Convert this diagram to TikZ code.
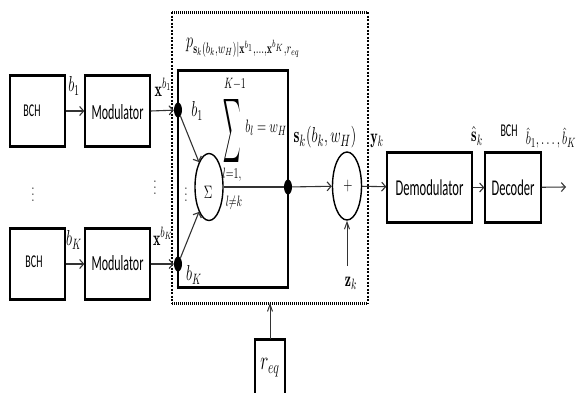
\documentclass[tikz,border=0pt]{standalone}
\usepackage{fontspec}
\setsansfont{Carlito}
\usepackage{amsmath}
\usepackage{graphicx}
\usetikzlibrary{arrows.meta,shapes.geometric}
\newcommand{\vt}[1]{\scalebox{1}[1.8]{#1}}
\newcommand{\vm}[1]{\scalebox{1}[1.5]{#1}}
\begin{document}
\begin{tikzpicture}[x=1pt,y=-1pt,
  blk/.style={draw, line width=1.3pt, inner sep=0pt, minimum width=#1},
  blk/.default=65,
  tb/.style={line width=3pt},
  arr/.style={draw=black!80, line width=1.1pt, -{Straight Barb[length=4pt,width=9pt,line width=1.1pt]}},
  varr/.style={draw=black!80, line width=1pt, -{Straight Barb[length=7pt,width=5pt,line width=1pt]}},
  dot/.style={ellipse, fill=black, inner sep=0pt, minimum width=8pt, minimum height=15pt},
  oval/.style={ellipse, draw, line width=1.4pt, inner sep=0pt, minimum width=28pt, minimum height=67pt},
  boxtxt/.style={font=\sffamily\fontsize{12}{14}\selectfont, inner sep=0pt},
  smalltxt/.style={font=\sffamily\fontsize{10}{12}\selectfont, inner sep=0pt},
  lab/.style={font=\fontsize{14}{16}\selectfont, inner sep=0pt}
]
\path[use as bounding box] (0,0) rectangle (577,392);

% blocks
\node[blk=55, minimum height=69pt] (bch1) at (37.5,111) {};
\node[smalltxt] (bch1t) at (32,111) {\vt{BCH}};
\node[blk=65, minimum height=69pt] (mod1) at (117.5,111) {};
\node[boxtxt] (mod1t) at (117.5,112) {\vt{Modulator}};
\node[blk=55, minimum height=69pt] (bch2) at (37.5,264) {};
\node[smalltxt] (bch2t) at (34,262) {\vt{BCH}};
\node[blk=65, minimum height=69pt] (mod2) at (117.5,264) {};
\node[boxtxt] (mod2t) at (117.5,263) {\vt{Modulator}};
\node[blk=110, minimum height=216pt, line width=1.5pt] (inner) at (233,179) {};
\node[blk=85, minimum height=69pt] (demod) at (429.5,187.5) {};
\node[boxtxt, font=\sffamily\fontsize{12.6}{14}\selectfont] (demodt) at (429.5,188) {\vt{Demodulator}};
\node[blk=56, minimum height=69pt] (dec) at (513,187.5) {};
\node[boxtxt, font=\sffamily\fontsize{12.5}{14}\selectfont] (dect) at (513,188) {\vt{Decoder}};
\node[blk=30, minimum height=62pt] (req) at (270,371) {};
\node[lab, font=\fontsize{17}{19}\selectfont] (reqt) at (270,368) {\vm{$r_{eq}$}};

\foreach \n in {bch1,mod1,bch2,mod2,inner,demod,dec,req}
  \draw[tb] ([xshift=-0.6pt]\n.north west) -- ([xshift=0.6pt]\n.north east)
            ([xshift=-0.6pt]\n.south west) -- ([xshift=0.6pt]\n.south east);

% dotted enclosure
\coordinate (d1) at (172,12);
\coordinate (d2) at (368,12);
\coordinate (d3) at (368,303);
\coordinate (d4) at (172,303);
\draw[line width=3pt, dash pattern=on 1pt off 1pt] (d1) -- (d2) (d4) -- (d3);
\draw[line width=1.3pt, dash pattern=on 2pt off 1.5pt] (d1) -- (d4) (d2) -- (d3);

% junctions and summers
\node[dot] (dA) at (178,110) {};
\node[dot] (dB) at (178,264) {};
\node[dot] (dC) at (288,187) {};
\node[oval] (sig) at (209,187) {};
\node[font=\fontsize{12}{14}\selectfont, inner sep=0pt] (sigt) at (208,192) {\vm{$\Sigma$}};
\node[oval, minimum width=29pt, minimum height=68pt] (plus) at (347,186) {};
\node[font=\fontsize{12}{14}\selectfont, inner sep=0pt] (plust) at (348,186) {\vm{$+$}};
\coordinate (out) at (566,187);
\coordinate (zs) at (347,266);
\coordinate (db) at (270,303);

% connectors
\draw[arr] (bch1) -- (mod1);
\draw[arr] (bch2) -- (mod2);
\draw[arr] (mod1.east) -- (dA);
\draw[arr] (mod2.east) -- (dB);
\draw[arr] (dA) -- (sig);
\draw[arr] (dB) -- (sig);
\draw[draw=black!80, line width=1.1pt] (sig) -- (dC);
\draw[arr] (dC) -- (plus);
\draw[arr] (plus) -- (demod);
\draw[arr] (demod) -- (dec);
\draw[arr] (dec) -- (out);
\draw[varr] (zs) -- (plus);
\draw[varr] (req) -- (db);

% vertical dots
\node[inner sep=0pt] (v1) at (33,190) {\scalebox{1}[1.5]{$\vdots$}};
\node[inner sep=0pt] (v2) at (155,183) {\scalebox{1}[1.5]{$\vdots$}};
\node[inner sep=0pt] (v3) at (186,190) {\scalebox{1}[1.5]{$\vdots$}};

% labels
\node[lab] (lb1) at (74,86) {\vm{$b_1$}};
\node[lab] (lbK) at (74,240) {\vm{$b_K$}};
\node[lab] (lx1) at (163,87) {\vm{$\mathbf{x}^{b_1}$}};
\node[lab] (lxK) at (163,236) {\vm{$\mathbf{x}^{b_K}$}};
\node[lab] (ib1) at (197,111) {\vm{$b_1$}};
\node[lab] (ibK) at (194,275) {\vm{$b_K$}};
\node[lab] (sK) at (235,84) {\vm{$\scriptstyle K-1$}};
\node[inner sep=0pt] (bigsum) at (232,131) {\scalebox{1.2}[4.5]{$\displaystyle\sum$}};
\node[lab] (sl1) at (232,175) {\vm{$\scriptstyle l=1,$}};
\node[lab] (sl2) at (234,203) {\vm{$\scriptstyle l\neq k$}};
\node[lab, font=\fontsize{12.5}{15}\selectfont] (sbl) at (266,128) {\vm{$b_l = w_H$}};
\node[lab, font=\fontsize{15}{17}\selectfont] (ls) at (325,137) {\vm{$\mathbf{s}_k(b_k,w_H)$}};
\node[lab] (ly) at (377,141) {\vm{$\mathbf{y}_k$}};
\node[lab] (lsh) at (477,136) {\vm{$\hat{\mathbf{s}}_k$}};
\node[smalltxt] (lbch) at (509,131) {\vt{BCH}};
\node[lab, font=\fontsize{12.5}{15}\selectfont] (lbh) at (551,138) {\vm{$\hat{b}_1,\ldots,\hat{b}_K$}};
\node[lab] (lz) at (351,283) {\vm{$\mathbf{z}_k$}};
\node[lab] (lp) at (243,48) {\vm{$p_{\mathbf{s}_k(b_k,w_H)|\mathbf{x}^{b_1},\ldots,\mathbf{x}^{b_K},r_{eq}}$}};
\end{tikzpicture}
\end{document}
